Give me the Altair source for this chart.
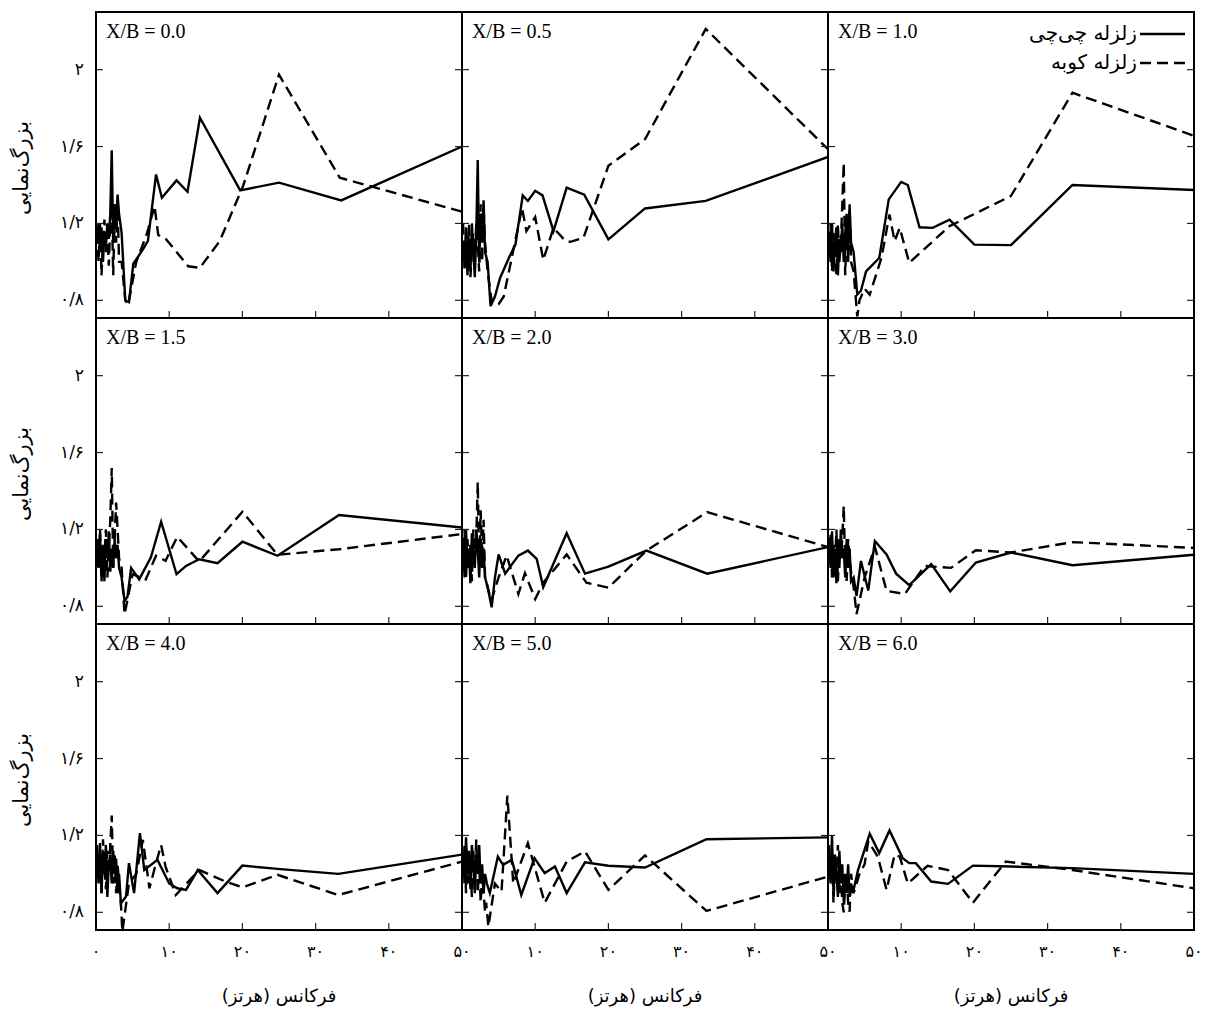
import altair as alt
import pandas as pd

SERIES = ["زلزله چی\u200cچی", "زلزله کوبه"]
PANEL_LABELS = ["X/B = 0.0", "X/B = 0.5", "X/B = 1.0",
                "X/B = 1.5", "X/B = 2.0", "X/B = 3.0",
                "X/B = 4.0", "X/B = 5.0", "X/B = 6.0"]
X_TICKS = [0, 10, 20, 30, 40, 50]
X_TICK_LABELS = ["۰", "۱۰", "۲۰", "۳۰", "۴۰", "۵۰"]
Y_TICKS = [0.8, 1.2, 1.6, 2.0]
Y_TICK_LABELS = ["۰/۸", "۱/۲", "۱/۶", "۲"]
X_TITLE = "فرکانس (هرتز)"
Y_TITLE = "بزرگ\u200cنمایی"

# low-frequency (noisy) part, shared frequency grid
LOW_F = [0.15, 0.35, 0.55, 0.75, 0.95, 1.15, 1.35, 1.55, 1.75, 1.95, 2.15, 2.35, 2.55, 2.75, 2.95, 3.15]

# X/B = 0.0
XB00_CHICHI_LOW = [1.12, 1.2, 1.05, 1.18, 1.0, 1.15, 1.08, 1.2, 1.12, 1.25, 1.58, 1.1, 1.3, 1.2, 1.35, 1.25]
XB00_CHICHI_F = [3.5, 4.0, 4.5, 5.1, 6.5, 7.1, 8.2, 9.0, 11.0, 12.5, 14.2, 19.7, 25, 33.5, 50]
XB00_CHICHI_V = [1.15, 0.80, 0.79, 0.99, 1.07, 1.11, 1.455, 1.334, 1.424, 1.365, 1.75, 1.372, 1.412, 1.32, 1.60]
XB00_KOBE_LOW = [1.15, 1.0, 1.2, 0.93, 1.1, 1.22, 1.05, 1.15, 0.98, 1.2, 1.3, 0.93, 1.25, 1.1, 1.3, 1.0]
XB00_KOBE_F = [3.5, 4.0, 4.4, 5.5, 6.9, 8.0, 8.5, 9.6, 12.6, 14.2, 16.9, 20.1, 25, 33.3, 50]
XB00_KOBE_V = [1.0, 0.80, 0.777, 1.0, 1.14, 1.29, 1.14, 1.117, 0.977, 0.969, 1.108, 1.395, 1.974, 1.438, 1.261]

# X/B = 0.5
XB05_CHICHI_LOW = [1.1, 1.0, 1.18, 0.93, 1.12, 0.95, 1.2, 1.05, 0.92, 1.15, 1.53, 1.0, 1.25, 1.1, 1.32, 1.05]
XB05_CHICHI_F = [3.5, 3.9, 4.5, 5.2, 6.4, 7.3, 8.3, 9.0, 10, 11, 12.5, 14.3, 16.7, 20, 25, 33.3, 50]
XB05_CHICHI_V = [1.0, 0.77, 0.82, 0.916, 1.02, 1.09, 1.346, 1.317, 1.37, 1.346, 1.16, 1.386, 1.35, 1.117, 1.278, 1.317, 1.546]
XB05_KOBE_LOW = [1.2, 0.95, 1.1, 1.0, 1.2, 0.92, 1.05, 1.15, 1.0, 1.2, 1.1, 0.95, 1.3, 1.0, 1.28, 1.1]
XB05_KOBE_F = [3.5, 4.1, 5.0, 5.7, 6.6, 8.2, 8.8, 10, 11.1, 12.5, 14.1, 14.8, 16.6, 20, 25, 33.3, 50]
XB05_KOBE_V = [0.95, 0.786, 0.78, 0.82, 0.985, 1.28, 1.16, 1.233, 1.01, 1.177, 1.11, 1.104, 1.125, 1.50, 1.638, 2.212, 1.586]

# X/B = 1.0
XB10_CHICHI_LOW = [1.15, 1.0, 1.2, 0.95, 1.1, 1.18, 0.93, 1.12, 1.05, 1.2, 1.0, 1.15, 1.25, 1.0, 1.3, 1.1]
XB10_CHICHI_F = [3.5, 4.0, 4.5, 5.2, 7.0, 8.3, 10, 10.9, 12.5, 14.3, 16.6, 20, 25, 33.4, 50]
XB10_CHICHI_V = [1.05, 0.83, 0.85, 0.95, 1.02, 1.325, 1.416, 1.40, 1.18, 1.177, 1.22, 1.09, 1.087, 1.40, 1.374]
XB10_KOBE_LOW = [1.1, 1.2, 0.95, 1.15, 1.05, 0.93, 1.2, 1.0, 1.1, 1.3, 1.516, 0.93, 1.2, 1.05, 1.28, 1.0]
XB10_KOBE_F = [3.5, 4.0, 4.3, 5.0, 5.7, 7.3, 8.4, 9.1, 9.8, 11.1, 16.6, 25, 33.4, 50]
XB10_KOBE_V = [0.95, 0.716, 0.80, 0.86, 0.83, 1.02, 1.247, 1.108, 1.177, 0.995, 1.186, 1.343, 1.88, 1.656]

# X/B = 1.5
XB15_CHICHI_LOW = [1.1, 1.0, 1.18, 0.95, 1.12, 0.93, 1.15, 1.05, 1.19, 0.98, 1.1, 1.0, 1.15, 1.05, 1.12, 1.0]
XB15_CHICHI_F = [3.5, 3.9, 4.3, 4.8, 5.9, 7.5, 8.9, 11, 12.3, 14.1, 16.6, 20, 24.8, 33.2, 50]
XB15_CHICHI_V = [0.95, 0.828, 0.85, 1.0, 0.94, 1.055, 1.24, 0.967, 1.01, 1.045, 1.024, 1.136, 1.063, 1.275, 1.21]
XB15_KOBE_LOW = [1.15, 1.0, 1.2, 0.93, 1.1, 1.05, 1.2, 0.95, 1.1, 1.25, 1.52, 1.0, 1.15, 1.34, 1.2, 1.05]
XB15_KOBE_F = [3.5, 3.9, 5.0, 6.8, 8.2, 9.5, 11.1, 14.1, 20, 24.8, 33.2, 50]
XB15_KOBE_V = [1.0, 0.758, 0.967, 0.94, 1.063, 1.037, 1.162, 1.033, 1.292, 1.068, 1.097, 1.176]

# X/B = 2.0
XB20_CHICHI_LOW = [1.15, 0.95, 1.2, 1.0, 1.1, 0.92, 1.18, 1.05, 1.0, 1.2, 1.1, 0.95, 1.15, 1.0, 1.1, 0.95]
XB20_CHICHI_F = [3.5, 4.05, 4.5, 5.0, 5.9, 7.7, 9.0, 10.2, 11.1, 14.3, 16.8, 20, 25.2, 33.5, 50]
XB20_CHICHI_V = [0.9, 0.795, 0.95, 1.07, 0.97, 1.064, 1.09, 1.047, 0.90, 1.18, 0.97, 1.007, 1.09, 0.97, 1.108]
XB20_KOBE_LOW = [1.1, 1.2, 0.95, 1.15, 1.0, 1.12, 0.93, 1.2, 1.05, 1.15, 1.447, 1.0, 1.3, 1.05, 1.25, 0.95]
XB20_KOBE_F = [3.5, 4.0, 5.0, 6.1, 7.7, 8.6, 10, 11.1, 14.3, 17, 20, 25.2, 33.5, 50]
XB20_KOBE_V = [0.9, 0.83, 0.95, 1.064, 0.864, 0.972, 0.838, 0.923, 1.07, 0.923, 0.897, 1.09, 1.29, 1.108]

# X/B = 3.0
XB30_CHICHI_LOW = [1.15, 1.0, 1.19, 0.95, 1.1, 0.92, 1.15, 1.0, 1.2, 1.05, 1.1, 0.95, 1.15, 1.0, 1.1, 0.93]
XB30_CHICHI_F = [3.5, 3.9, 4.5, 5.5, 6.4, 8.0, 9.3, 11.1, 14.1, 16.7, 20.2, 25, 33.4, 50]
XB30_CHICHI_V = [0.95, 0.854, 1.036, 0.882, 1.14, 1.07, 0.97, 0.91, 1.02, 0.878, 1.028, 1.08, 1.014, 1.068]
XB30_KOBE_LOW = [1.1, 1.18, 0.95, 1.12, 1.0, 1.2, 0.93, 1.1, 1.05, 1.15, 1.323, 1.0, 0.932, 1.15, 1.05, 0.98]
XB30_KOBE_F = [3.5, 3.9, 5.0, 6.4, 8.0, 10.5, 13.2, 16.8, 20.2, 25, 33.4, 50]
XB30_KOBE_V = [0.9, 0.76, 0.95, 1.11, 0.88, 0.864, 1.01, 1.0, 1.092, 1.08, 1.134, 1.104]

# X/B = 4.0
XB40_CHICHI_LOW = [1.1, 0.95, 1.16, 0.9, 1.1, 1.0, 1.15, 0.88, 1.05, 1.1, 0.95, 1.12, 1.0, 1.08, 0.9, 1.0]
XB40_CHICHI_F = [3.4, 4.1, 4.5, 5.2, 6.0, 6.6, 8.4, 10, 11.1, 12.3, 13.9, 16.6, 20, 24.8, 33.1, 50]
XB40_CHICHI_V = [0.847, 0.882, 1.056, 0.9, 1.212, 1.02, 1.073, 0.95, 0.925, 0.917, 1.02, 0.9, 1.043, 1.026, 1.0, 1.10]
XB40_KOBE_LOW = [1.15, 1.0, 1.1, 0.9, 1.18, 1.05, 0.92, 1.12, 1.0, 1.15, 1.303, 0.95, 1.1, 0.9, 1.05, 0.95]
XB40_KOBE_F = [3.4, 3.6, 4.5, 5.5, 6.4, 7.3, 8.2, 8.9, 9.5, 10.9, 14.1, 17.7, 20, 24.8, 33.1, 50]
XB40_KOBE_V = [0.85, 0.70, 0.95, 1.0, 1.177, 0.925, 1.056, 1.15, 1.038, 0.89, 1.02, 0.96, 0.93, 0.995, 0.89, 1.064]

# X/B = 5.0
XB50_CHICHI_LOW = [1.1, 0.95, 1.19, 1.0, 1.12, 0.92, 1.15, 1.05, 0.9, 1.1, 1.0, 1.15, 0.95, 1.05, 0.9, 1.0]
XB50_CHICHI_F = [3.4, 3.8, 4.9, 5.6, 6.8, 8.1, 9.9, 11.3, 12.7, 14.3, 16.8, 20, 25, 33.4, 50]
XB50_CHICHI_V = [0.95, 0.9, 1.09, 1.047, 1.073, 0.89, 1.082, 1.004, 1.038, 0.9, 1.06, 1.042, 1.033, 1.18, 1.19]
XB50_KOBE_LOW = [1.0, 1.15, 0.9, 1.1, 0.95, 1.05, 0.88, 1.12, 1.0, 1.18, 0.9, 1.05, 0.85, 1.0, 0.9, 0.8]
XB50_KOBE_F = [3.3, 3.6, 4.5, 5.4, 6.2, 7.0, 9.0, 11.3, 14.3, 16.8, 20, 25, 33.4, 50]
XB50_KOBE_V = [0.85, 0.725, 0.95, 0.908, 1.407, 0.95, 1.16, 0.85, 1.064, 1.117, 0.917, 1.096, 0.807, 0.986]

# X/B = 6.0
XB60_CHICHI_LOW = [1.1, 0.95, 1.2, 0.9, 1.1, 1.0, 0.88, 1.12, 0.95, 1.05, 0.85, 1.0, 0.9, 1.05, 0.88, 0.95]
XB60_CHICHI_F = [3.4, 4.1, 5.7, 7.0, 8.4, 10.2, 11.1, 12, 14.1, 16.4, 19.8, 25, 33.4, 50]
XB60_CHICHI_V = [0.9, 1.02, 1.209, 1.108, 1.226, 1.082, 1.056, 1.056, 0.96, 0.948, 1.043, 1.038, 1.03, 1.0]
XB60_KOBE_LOW = [1.15, 1.0, 1.1, 0.85, 1.05, 0.95, 1.15, 0.9, 1.0, 0.85, 0.8, 0.95, 1.0, 0.85, 0.803, 1.0]
XB60_KOBE_F = [3.5, 4.3, 5.0, 5.5, 6.8, 8.0, 9.1, 9.8, 10.9, 13.6, 16.4, 19.8, 24.3, 33.4, 50]
XB60_KOBE_V = [0.9, 1.0, 1.05, 1.169, 1.09, 0.917, 1.1, 1.09, 0.95, 1.042, 1.02, 0.85, 1.064, 1.02, 0.925]

PANELS = [
    (XB00_CHICHI_LOW, XB00_CHICHI_F, XB00_CHICHI_V, XB00_KOBE_LOW, XB00_KOBE_F, XB00_KOBE_V),
    (XB05_CHICHI_LOW, XB05_CHICHI_F, XB05_CHICHI_V, XB05_KOBE_LOW, XB05_KOBE_F, XB05_KOBE_V),
    (XB10_CHICHI_LOW, XB10_CHICHI_F, XB10_CHICHI_V, XB10_KOBE_LOW, XB10_KOBE_F, XB10_KOBE_V),
    (XB15_CHICHI_LOW, XB15_CHICHI_F, XB15_CHICHI_V, XB15_KOBE_LOW, XB15_KOBE_F, XB15_KOBE_V),
    (XB20_CHICHI_LOW, XB20_CHICHI_F, XB20_CHICHI_V, XB20_KOBE_LOW, XB20_KOBE_F, XB20_KOBE_V),
    (XB30_CHICHI_LOW, XB30_CHICHI_F, XB30_CHICHI_V, XB30_KOBE_LOW, XB30_KOBE_F, XB30_KOBE_V),
    (XB40_CHICHI_LOW, XB40_CHICHI_F, XB40_CHICHI_V, XB40_KOBE_LOW, XB40_KOBE_F, XB40_KOBE_V),
    (XB50_CHICHI_LOW, XB50_CHICHI_F, XB50_CHICHI_V, XB50_KOBE_LOW, XB50_KOBE_F, XB50_KOBE_V),
    (XB60_CHICHI_LOW, XB60_CHICHI_F, XB60_CHICHI_V, XB60_KOBE_LOW, XB60_KOBE_F, XB60_KOBE_V),
]

W, H = 366, 306
FONT_FA = "DejaVu Sans"
FONT_LAT = "Liberation Serif"
LW = 2.4
DASH = [11, 6]

xscale = alt.Scale(domain=[0, 50], nice=False, zero=False)
yscale = alt.Scale(domain=[0.708, 2.30], nice=False, zero=False)


def series_df(low, f, v):
    return pd.DataFrame({"f": list(LOW_F) + list(f), "v": list(low) + list(v)})


def panel(i):
    row, col = divmod(i, 3)
    cl, cf, cv, kl, kf, kv = PANELS[i]

    solid = alt.Chart(series_df(cl, cf, cv)).mark_line(
        color="black", strokeWidth=LW, clip=True
    ).encode(
        x=alt.X("f:Q", scale=xscale, axis=None),
        y=alt.Y("v:Q", scale=yscale, axis=None),
    )
    dashed = alt.Chart(series_df(kl, kf, kv)).mark_line(
        color="black", strokeWidth=LW, clip=True, strokeDash=DASH
    ).encode(
        x=alt.X("f:Q", scale=xscale, axis=None),
        y=alt.Y("v:Q", scale=yscale, axis=None),
    )

    ytk = pd.DataFrame({"v": Y_TICKS, "lab": Y_TICK_LABELS})
    xtk = pd.DataFrame({"t": X_TICKS[1:-1]})
    left_t = alt.Chart(ytk).mark_rule(color="#222", strokeWidth=1.2).encode(
        y=alt.Y("v:Q", scale=yscale, axis=None), x=alt.value(0), x2=alt.value(7))
    right_t = alt.Chart(ytk).mark_rule(color="#222", strokeWidth=1.2).encode(
        y=alt.Y("v:Q", scale=yscale, axis=None), x=alt.value(W - 7), x2=alt.value(W))
    bot_t = alt.Chart(xtk).mark_rule(color="#222", strokeWidth=1.2).encode(
        x=alt.X("t:Q", scale=xscale, axis=None), y=alt.value(H - 7), y2=alt.value(H))

    lab = alt.Chart(pd.DataFrame({"t": [PANEL_LABELS[i]]})).mark_text(
        align="left", baseline="alphabetic", font=FONT_LAT, fontSize=20, color="black"
    ).encode(x=alt.value(10), y=alt.value(26), text="t:N")

    layers = [solid, dashed, left_t, right_t, bot_t, lab]

    if col == 0:
        layers.append(alt.Chart(ytk).mark_text(
            align="right", baseline="middle", font=FONT_FA, fontSize=17, color="black"
        ).encode(y=alt.Y("v:Q", scale=yscale, axis=None), x=alt.value(-12), text="lab:N"))
        layers.append(alt.Chart(pd.DataFrame({"t": [Y_TITLE]})).mark_text(
            align="center", baseline="middle", font=FONT_FA, fontSize=21, color="black", angle=270
        ).encode(x=alt.value(-74), y=alt.value(H / 2 + 3), text="t:N"))

    if row == 2:
        xv = X_TICKS if col == 0 else X_TICKS[1:]
        xl = X_TICK_LABELS if col == 0 else X_TICK_LABELS[1:]
        xdf = pd.DataFrame({"t": xv, "lab": xl})
        layers.append(alt.Chart(xdf).mark_text(
            align="center", baseline="middle", font=FONT_FA, fontSize=16, color="black"
        ).encode(x=alt.X("t:Q", scale=xscale, axis=None), y=alt.value(H + 22), text="lab:N"))
        layers.append(alt.Chart(pd.DataFrame({"t": [X_TITLE]})).mark_text(
            align="center", baseline="middle", font=FONT_FA, fontSize=18, color="black"
        ).encode(x=alt.value(W / 2), y=alt.value(H + 67), text="t:N"))

    if i == 2:
        for k, dash, yy in [(0, [1, 0], 22), (1, DASH, 51)]:
            ld = pd.DataFrame({"name": [SERIES[k]]})
            layers.append(alt.Chart(ld).mark_text(
                align="right", baseline="middle", font=FONT_FA, fontSize=20, color="black"
            ).encode(x=alt.value(309), y=alt.value(yy), text="name:N"))
            layers.append(alt.Chart(ld).mark_rule(
                color="black", strokeWidth=2.6, strokeDash=dash
            ).encode(x=alt.value(312), x2=alt.value(357), y=alt.value(yy)))

    return alt.layer(*layers).properties(width=W, height=H)


chart = alt.concat(*[panel(i) for i in range(9)], columns=3, spacing=0, bounds="flush").properties(
    padding={"left": 10, "top": 11, "right": 3, "bottom": 5}
).configure_view(stroke="black", strokeWidth=2)

chart.save("out.html", embed_options={"renderer": "svg", "actions": False})
